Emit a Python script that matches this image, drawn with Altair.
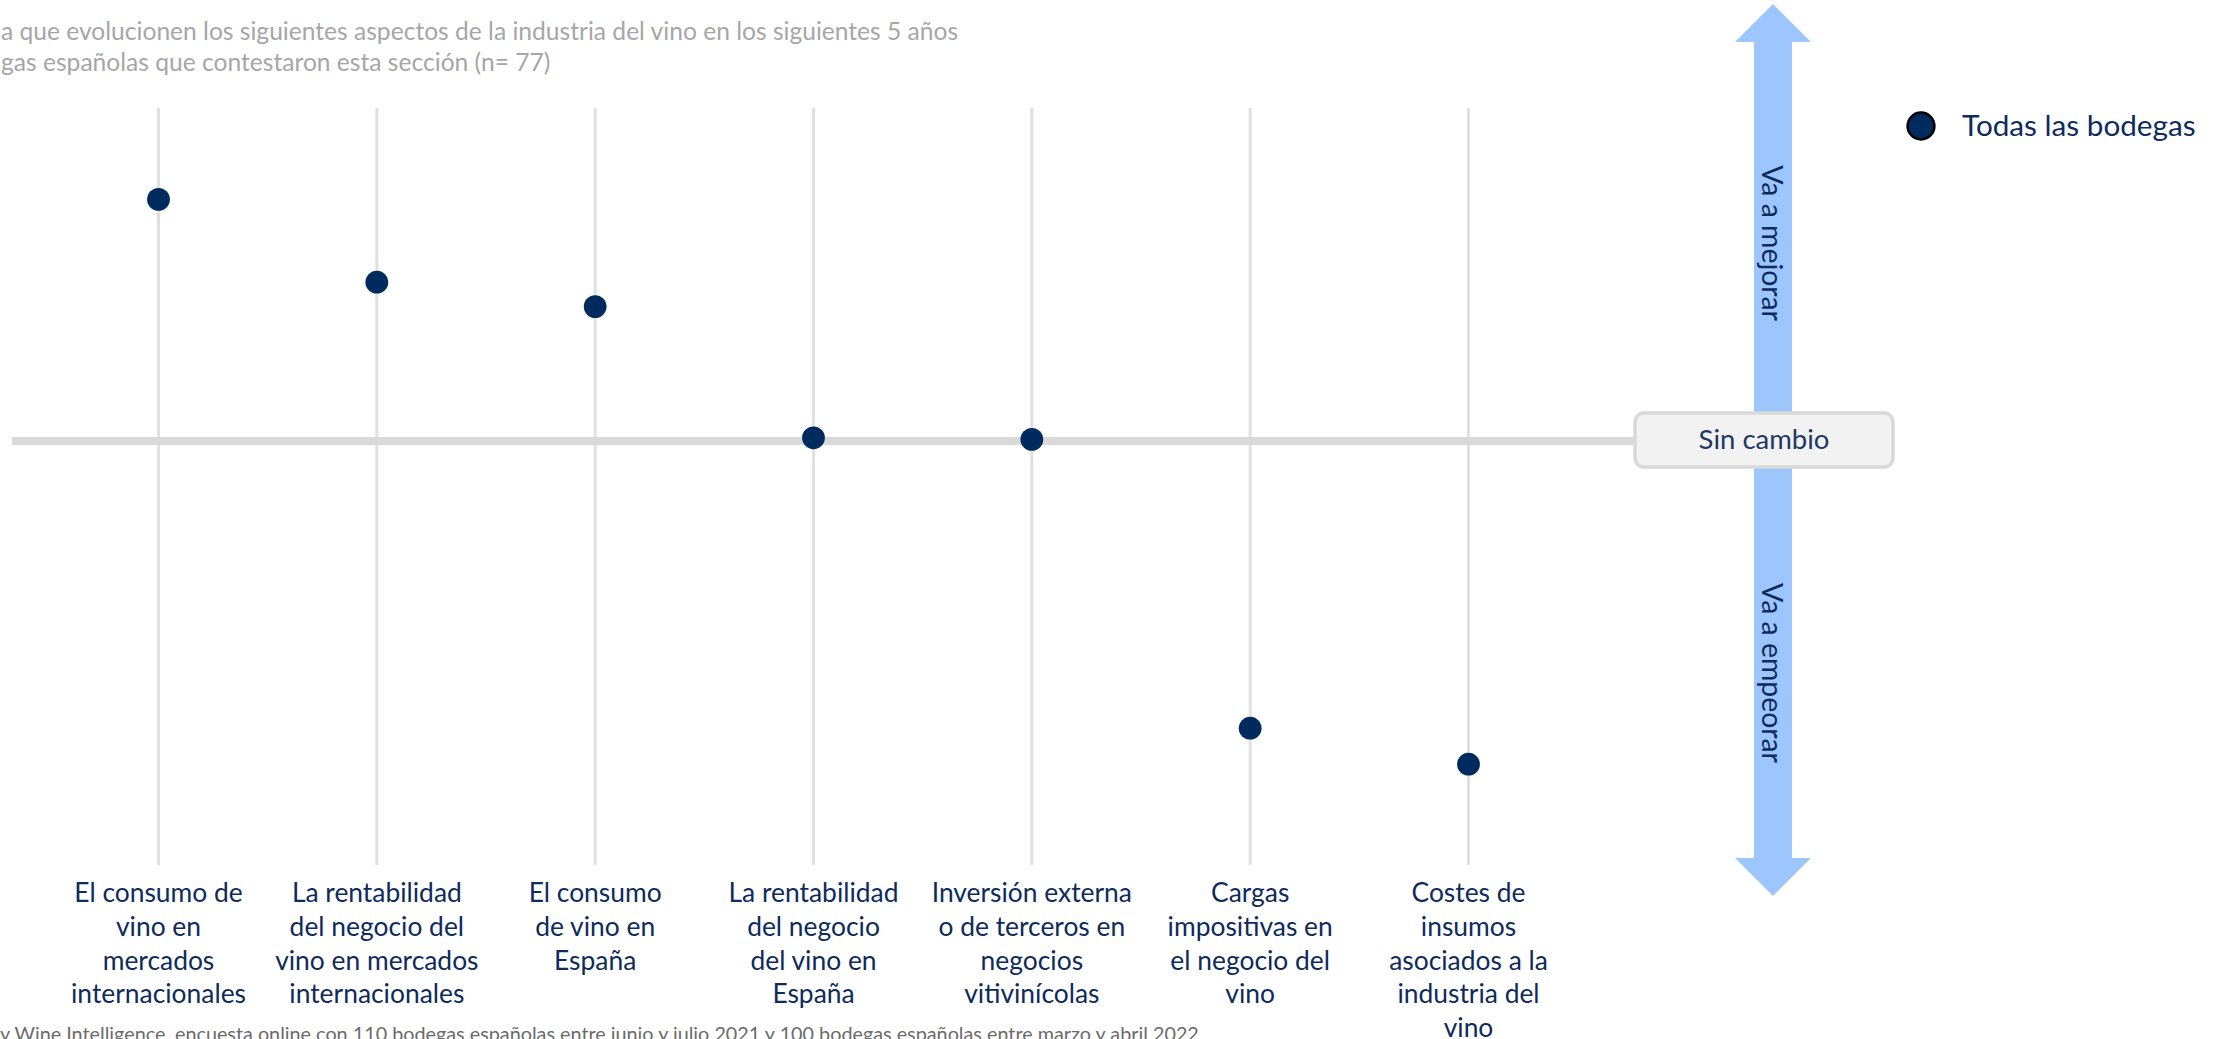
import altair as alt
import pandas as pd

# ---------------- data ----------------
categories = [
    "El consumo de vino en mercados internacionales",
    "La rentabilidad del negocio del vino en mercados internacionales",
    "El consumo de vino en España",
    "La rentabilidad del negocio del vino en España",
    "Inversión externa o de terceros en negocios vitivinícolas",
    "Cargas impositivas en el negocio del vino",
    "Costes de insumos asociados a la industria del vino",
]
label_lines = [
    "El consumo de|vino en|mercados|internacionales",
    "La rentabilidad|del negocio del|vino en mercados|internacionales",
    "El consumo|de vino en|España",
    "La rentabilidad|del negocio|del vino en|España",
    "Inversión externa|o de terceros en|negocios|vitivinícolas",
    "Cargas|impositivas en|el negocio del|vino",
    "Costes de|insumos|asociados a la|industria del|vino",
]
# net expectation score (0 = no change, + better, - worse)
values = [0.604, 0.397, 0.336, 0.008, 0.004, -0.718, -0.808]
series_name = "Todas las bodegas"

title_lines = [
    "a que evolucionen los siguientes aspectos de la industria del vino en los siguientes 5 años",
    "gas españolas que contestaron esta sección (n= 77)",
]
footer_text = ("y Wine Intelligence, encuesta online con 110 bodegas españolas entre junio y julio 2021 "
               "y 100 bodegas españolas entre marzo y abril 2022")
better_text = "Va a mejorar"
worse_text = "Va a empeorar"
nochange_text = "Sin cambio"

# ---------------- styling ----------------
W, H = 2223, 1039
FONT = "Lato"
NAVY = "#002B5E"
TXT = "#0E2B5C"
ARROW = "#9DC6FF"

df = pd.DataFrame({"cat": categories, "label": label_lines, "value": values,
                   "serie": [series_name] * len(categories)})
one = pd.DataFrame({"k": [0]})

xs = alt.Scale(type="point", domain=categories, range=[158.5, 1468.5], padding=0)
ys = alt.Scale(domain=[-1, 1], range=[841, 41])
X = alt.X("cat:N", scale=xs, axis=None)

base = alt.Chart(df)

grid = base.mark_rule(color="#E0E0E0", strokeWidth=3).encode(
    x=X, y=alt.value(108), y2=alt.value(865))

zero = alt.Chart(one).mark_rule(color="#D9D9D9", strokeWidth=8).encode(
    y=alt.Y(datum=0, type="quantitative", scale=ys, axis=None),
    x=alt.value(12), x2=alt.value(1635))

arrow_path = ("M0,-1L0.0852,-0.9148L0.0426,-0.9148L0.0426,0.9148L0.0852,0.9148L0,1"
              "L-0.0852,0.9148L-0.0426,0.9148L-0.0426,-0.9148L-0.0852,-0.9148Z")
arrow = alt.Chart(one).mark_point(shape=arrow_path, size=892 * 892, filled=True,
                                  fill=ARROW, opacity=1, strokeWidth=0).encode(
    x=alt.value(1773), y=alt.value(450))

better = alt.Chart(one).mark_text(text=better_text, angle=90, font=FONT, fontSize=28.4,
                                  color=TXT, align="center", baseline="middle").encode(
    x=alt.value(1771), y=alt.value(243))
worse = alt.Chart(one).mark_text(text=worse_text, angle=90, font=FONT, fontSize=28.4,
                                 color=TXT, align="center", baseline="middle").encode(
    x=alt.value(1771), y=alt.value(673))

box = alt.Chart(one).mark_rect(cornerRadius=9, fill="#F2F2F2", stroke="#D9D9D9",
                               strokeWidth=3.5).encode(
    x=alt.value(1635), x2=alt.value(1893), y=alt.value(413), y2=alt.value(467))
box_txt = alt.Chart(one).mark_text(text=nochange_text, font=FONT, fontSize=27.5,
                                   color="#1F3864", align="center", baseline="middle").encode(
    x=alt.value(1764), y=alt.value(441))

dots = base.mark_circle(size=520, color=NAVY, opacity=1).encode(
    x=X, y=alt.Y("value:Q", scale=ys, axis=None),
    tooltip=["cat:N", "value:Q"])

labels = base.mark_text(font=FONT, fontSize=26.4, color=TXT, align="center",
                        baseline="alphabetic", lineBreak="|", lineHeight=33.8).encode(
    x=X, y=alt.value(902), text="label:N")

leg_df = pd.DataFrame({"serie": [series_name]})
leg_pt = alt.Chart(leg_df).mark_point(size=720, filled=True, fill=NAVY, stroke="#000000",
                                      strokeWidth=2.5, opacity=1).encode(
    x=alt.value(1921), y=alt.value(126))
leg_txt = alt.Chart(leg_df).mark_text(font=FONT, fontSize=29.7, color=TXT, align="left",
                                      baseline="middle").encode(
    x=alt.value(1962), y=alt.value(127), text="serie:N")

t_df = pd.DataFrame({"t": title_lines, "i": [0, 1]})
titles = alt.Chart(t_df).mark_text(font=FONT, fontSize=24.6, color="#A6A6A6", align="left",
                                   baseline="alphabetic").encode(
    x=alt.value(1), y=alt.Y("i:O", scale=alt.Scale(type="point", domain=[0, 1], range=[39.5, 70.5], padding=0), axis=None),
    text="t:N")

footer = alt.Chart(pd.DataFrame({"t": [footer_text]})).mark_text(
    font=FONT, fontSize=19.8, color="#6B6B6B", align="left", baseline="alphabetic").encode(
    x=alt.value(0), y=alt.value(1041), text="t:N")

chart = alt.layer(grid, zero, arrow, better, worse, box, box_txt, dots, labels,
                  leg_pt, leg_txt, titles, footer).resolve_scale(y="independent").properties(
    width=W, height=H, padding=0, autosize=alt.AutoSizeParams(type="none"),
    background="white"
).configure_view(stroke=None)

chart.save("out.html", embed_options={"renderer": "svg", "actions": False})
